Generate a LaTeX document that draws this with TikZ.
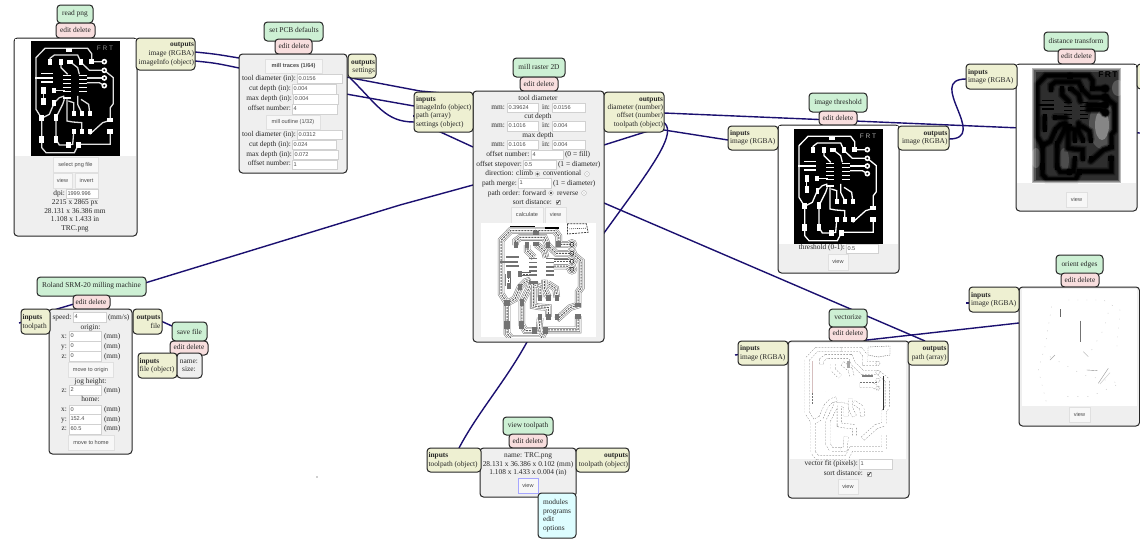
\documentclass[tikz,border=0pt]{standalone}
\usepackage{fontspec}
\setmainfont{Liberation Serif}
\newfontfamily\btnf{Liberation Sans}
\pgfdeclarelayer{bg}
\pgfsetlayers{bg,main}
\definecolor{wirec}{HTML}{1B1070}
\definecolor{gfill}{HTML}{CDF0D4}
\definecolor{pfill}{HTML}{F8DEDE}
\definecolor{yfill}{HTML}{EEF0D2}
\definecolor{cfill}{HTML}{DDFDFF}
\definecolor{mfill}{HTML}{EFEFEF}
\newcounter{tc}
\tikzset{
  x=1pt,y=-1pt,
  boxbase/.style={draw=black!85,line width=1pt,rounded corners=3.5pt,inner sep=0pt,outer sep=0pt},
  gbox/.style={boxbase,fill=gfill},
  pbox/.style={boxbase,fill=pfill},
  ybox/.style={boxbase,fill=yfill},
  cbox/.style={boxbase,fill=cfill},
  mbox/.style={boxbase,fill=mfill},
  wbox/.style={boxbase,fill=white,draw=none,rounded corners=0pt},
  nbox/.style={boxbase,fill=mfill},
  btnbox/.style={draw=black!12,line width=.6pt,fill=white!97!black,inner sep=0pt,outer sep=0pt},
  bluebtn/.style={btnbox,draw=blue!35!white,line width=.9pt},
  inpbox/.style={draw=black!18,line width=.5pt,fill=white,inner sep=0pt,outer sep=0pt},
  lab/.style={font=\fontsize{7.4}{8}\selectfont,text=black!85,inner sep=0pt,outer sep=0pt,text height=4.6pt,text depth=1.4pt},
  btnlab/.style={font=\btnf\fontsize{5.6}{7}\selectfont,text=black!70,inner sep=0pt,outer sep=0pt,text height=4.6pt,text depth=1.4pt},
  wire/.style={draw=wirec,line width=1.4pt,line join=round},
  pcbat/.style 2 args={shift={(#1,#2)},scale=.3333,shift={(-93,-123)}}
}
\newcommand\bx[6]{\node[#6,minimum width=#4pt-#2pt,minimum height=#5pt-#3pt,anchor=north west] (#1) at (#2,#3) {};}
\newcommand\tx[4][center]{\stepcounter{tc}\node[lab,anchor=#1] (t\thetc) at (#2,#3) {#4};}
\newcommand\btx[3]{\stepcounter{tc}\node[btnlab] (t\thetc) at (#1,#2) {#3};}
\newcommand\ipt[5]{\stepcounter{tc}\bx{i\thetc}{#1}{#2}{#3}{#4}{inpbox}\stepcounter{tc}\node[btnlab,anchor=west] (t\thetc) at (#1+1.5,#2/2+#4/2) {#5};}
\newcommand\btn[6][btnbox]{\stepcounter{tc}\bx{b\thetc}{#2}{#3}{#4}{#5}{#1}\stepcounter{tc}\node[btnlab] (t\thetc) at (#2/2+#4/2,#3/2+#5/2) {#6};}
\newcommand\radio[3]{\draw[black!30,fill=white,line width=.4pt] (#1,#2) circle (2.4);\fill[#3] (#1,#2) circle (1.3);}
\newcommand\chk[2]{\draw[black!30,fill=white,line width=.4pt] (#1-2.2,#2-2.2) rectangle (#1+2.2,#2+2.2);\draw[black!85,line width=.7pt] (#1-1.4,#2) -- (#1-.4,#2+1.3) -- (#1+1.6,#2-1.6);}
% board artwork, in coordinates of a 3x crop
\newcommand\pcbtr[1]{%
  \draw[#1] (207,145) -- (135,145) -- (108,173) -- (108,328) -- (125,355);
  \draw[#1] (207,145) -- (263,145) -- (275,161) -- (275,185) -- (313,185);
  \draw[#1] (150,187) -- (150,175) -- (163,165) -- (233,165) -- (243,187) -- (268,211) -- (313,211);
  \draw[#1] (183,187) -- (183,203) -- (203,223);
  \draw[#1] (210,185) -- (233,203) -- (238,223);
  \draw[#1] (261,234) -- (313,234);
  \draw[#1] (261,248) -- (298,248) -- (313,257);
  \draw[#1] (130,272) -- (130,305);
  \draw[#1] (162,271) -- (195,271);
  \draw[#1] (193,288) -- (178,293) -- (163,308) -- (148,343) -- (125,355) -- (125,418) -- (125,443) -- (138,458) -- (223,458) -- (236,433) -- (331,433) -- (331,393);
  \draw[#1] (193,298) -- (188,313) -- (168,353) -- (168,418) -- (178,435) -- (205,435);
  \draw[#1] (201,298) -- (201,363) -- (218,366) -- (245,368) -- (245,395);
  \draw[#1] (221,338) -- (221,308) -- (205,303);
  \draw[#1] (245,338) -- (233,313) -- (233,288);
  \draw[#1] (269,338) -- (266,313) -- (243,298);
  \draw[#1] (221,398) -- (218,433) -- (205,435);
  \draw[#1] (269,403) -- (308,368) -- (331,361) -- (331,323) -- (340,311) -- (340,233) -- (313,211);
}
\newcommand\pcbpd[1]{%
  \foreach \a/\b/\w/\h in {208/151/18/12,150/186/12/18,183/186/12/18,210/185/18/12,243/186/12/18,275/185/14/17,
     200/226/24/4,200/238/24/4,200/250/24/4,200/262/24/4,200/274/24/4,201/295/26/7,
     250/226/24/4,250/238/24/4,250/250/24/4,250/262/24/4,250/274/24/4,
     141/221/38/5,132/235/52/5,141/247/38/5,
     131/272/13/19,162/271/13/16,131/305/13/19,163/308/11/18,
     125/355/15/18,168/353/13/22,125/418/15/22,168/418/14/22,205/435/14/20,236/435/14/20,
     221/340/12/16,245/340/12/16,269/340/12/16,221/395/12/16,245/395/12/16,269/395/12/16,
     331/361/18/11,331/395/18/15} {\fill[#1] (\a-\w/2,\b-\h/2) rectangle (\a+\w/2,\b+\h/2);}
}
\newcommand\pcbrg[1]{\foreach \b in {185,211,234,257} {\draw[#1] (313,\b) circle (6);}}
\newcommand\pcbbody[3]{\pcbtr{#1}\pcbpd{#2}\pcbrg{#3}}
\begin{document}
\begin{tikzpicture}
\useasboundingbox (0,0) rectangle (1140,546);
% ---------- read png
\bx{rpg}{57}{5}{93}{23}{gbox} \tx{75}{14}{read png}
\bx{rpp}{56}{23}{95}{38}{pbox} \tx{75.5}{31}{edit delete}
\bx{rpm}{14}{38}{137}{236}{mbox}
\bx{rpw}{15}{39}{136}{156}{wbox}
\bx{rpo}{136}{38}{195}{70}{ybox}
\tx[east]{194}{45}{\textbf{outputs}} \tx[east]{194}{54}{image (RGBA)} \tx[east]{194}{62.5}{imageInfo (object)}
\fill[black] (31,41) rectangle (120,156);
\begin{scope}[pcbat={31}{41}]
  \pcbbody{white!88!black,line width=1.3pt}{white}{white,line width=1.6pt,fill=black}
  \btx{315}{147}{\color{black!45}\fontsize{6.5}{7}\selectfont F R T}
\end{scope}
\btn{53}{157}{98}{172}{select png file}
\btn{53}{173}{72}{188}{view}
\btn{75}{173}{98}{188}{invert}
\tx[east]{65}{194}{dpi:} \ipt{66}{189}{98}{198}{1999.996}
\tx{75}{203}{2215 x 2865 px} \tx{75}{212}{28.131 x 36.386 mm} \tx{75}{220}{1.108 x 1.433 in} \tx{75}{228.5}{TRC.png}
% ---------- set PCB defaults
\bx{spg}{264}{22}{323}{41}{gbox} \tx{294}{31}{set PCB defaults}
\bx{spp}{275}{39}{312}{54}{pbox} \tx{294}{47}{edit delete}
\bx{spm}{239}{54}{347}{173}{mbox}
\bx{spo}{348}{54}{376}{78}{ybox}
\tx[east]{375}{63}{\textbf{outputs}} \tx[east]{375}{71}{settings}
\btn{265}{59}{322}{73}{\textbf{mill traces (1/64)}}
\tx[east]{296}{78.5}{tool diameter (in):} \ipt{297}{74}{342}{83}{0.0156}
\tx[east]{291}{89}{cut depth (in):} \ipt{292}{84}{336}{94}{0.004}
\tx[east]{292}{99}{max depth (in):} \ipt{293}{94}{338}{104}{0.004}
\tx[east]{291}{109}{offset number:} \ipt{292}{104}{337}{114}{4}
\btn{266}{115}{320}{129}{mill outline (1/32)}
\tx[east]{296}{134.5}{tool diameter (in):} \ipt{297}{130}{342}{139}{0.0312}
\tx[east]{291}{144.5}{cut depth (in):} \ipt{292}{140}{336}{149}{0.024}
\tx[east]{292}{154.5}{max depth (in):} \ipt{293}{150}{338}{159}{0.072}
\tx[east]{291}{164}{offset number:} \ipt{292}{160}{337}{169}{1}
% ---------- mill raster 2D
\bx{mrg}{513}{58}{565}{77}{gbox} \tx{539}{68}{mill raster 2D}
\bx{mrp}{520}{77}{558}{91}{pbox} \tx{539}{84.5}{edit delete}
\bx{mrm}{473}{91}{604}{342}{mbox}
\bx{mri}{414}{92}{473}{132}{ybox}
\bx{mro}{604}{92}{664}{132}{ybox}
\tx[west]{416}{99.5}{\textbf{inputs}} \tx[west]{416}{107.5}{imageInfo (object)} \tx[west]{416}{116}{path (array)} \tx[west]{416}{124.5}{settings (object)}
\tx[east]{663}{99.5}{\textbf{outputs}} \tx[east]{663}{107.5}{diameter (number)} \tx[east]{663}{116}{offset (number)} \tx[east]{663}{124.5}{toolpath (object)}
\tx{538}{99}{tool diameter}
\tx[east]{505}{107.5}{mm:} \ipt{507}{103}{538}{112}{0.39624} \tx[east]{550}{107.5}{in:} \ipt{552}{103}{585}{112}{0.0156}
\tx{538}{117}{cut depth}
\tx[east]{505}{126}{mm:} \ipt{507}{121}{538}{131}{0.1016} \tx[east]{550}{126}{in:} \ipt{552}{121}{585}{131}{0.004}
\tx{538}{135.5}{max depth}
\tx[east]{505}{145}{mm:} \ipt{507}{140}{538}{149}{0.1016} \tx[east]{550}{145}{in:} \ipt{552}{140}{585}{149}{0.004}
\tx[east]{529.5}{154.5}{offset number:} \ipt{531}{150}{563}{159}{4} \tx[west]{565}{154.5}{(0 = fill)}
\tx[east]{522}{164.5}{offset stepover:} \ipt{523}{160}{556}{169}{0.5} \tx[west]{558}{164.5}{(1 = diameter)}
\tx[east]{533}{174}{direction: climb} \radio{537.5}{174}{black!70} \tx[west]{543}{174}{conventional} \radio{587}{174}{black!10}
\tx[east]{517}{183.5}{path merge:} \ipt{518}{178}{551}{188}{1} \tx[west]{553}{183.5}{(1 = diameter)}
\tx[east]{546}{193.5}{path order: forward} \radio{551}{193}{black!70} \tx[west]{557}{193.5}{reverse} \radio{584}{193}{black!10}
\tx[east]{552}{202.5}{sort distance:} \chk{558}{202}
\btn{511}{207}{543}{223}{calculate}
\btn{545}{207}{566}{223}{view}
\bx{mrw}{481}{223}{596}{337}{wbox}
\begin{scope}
  \clip (481,223) rectangle (596,337);
  \begin{scope}[shift={(496,223)},scale=.345,shift={(-93,-123)}]
    \pcbbody{black!50,line width=6.6pt}{black!50}{black!50,line width=6pt}
    \pcbbody{white,line width=5.5pt}{white}{white,line width=5pt}
    \pcbtr{black!60,line width=3.8pt}\pcbrg{black!60,line width=3.2pt}
    \pcbtr{white,line width=2.8pt}\pcbrg{white,line width=2.2pt}
    \pcbtr{black!65,line width=1pt,dash pattern=on 2pt off 1pt}
    \pcbpd{black!55}
    \pcbrg{black!85,line width=.7pt}
    \draw[black,line width=1.4pt] (135,133) -- (205,133);
    \draw[black,line width=1.4pt] (235,137) -- (275,137);
    \draw[black!80,line width=.7pt,dash pattern=on 2pt off 1pt] (300,125) -- (355,125) -- (360,150) -- (300,155) -- cycle;
    \draw[black!70,line width=.6pt,dash pattern=on 1pt off 1pt] (305,140) -- (355,138);
  \end{scope}
\end{scope}
% ---------- Roland
\bx{rlg}{37}{277}{146}{296}{gbox} \tx{91.5}{286}{Roland SRM-20 milling machine}
\bx{rlp}{73}{295}{110}{309}{pbox} \tx{91}{302.5}{edit delete}
\bx{rlm}{49}{309}{132}{454}{mbox}
\bx{rli}{21}{309}{50}{334}{ybox}
\bx{rlo}{133}{309}{162}{334}{ybox}
\tx[west]{22.5}{318}{\textbf{inputs}} \tx[west]{22.5}{326.5}{toolpath}
\tx[east]{160.5}{318}{\textbf{outputs}} \tx[east]{160.5}{326.5}{file}
\tx[east]{71.5}{317.5}{speed:} \ipt{73}{312}{106}{322}{4} \tx[west]{108}{317.5}{(mm/s)}
\tx{90.5}{327.5}{origin:}
\tx[east]{67}{336.5}{x:} \ipt{69}{331}{101}{341}{0} \tx[west]{104}{336.5}{(mm)}
\tx[east]{67}{346.5}{y:} \ipt{69}{341.5}{101}{351}{0} \tx[west]{104}{346.5}{(mm)}
\tx[east]{67}{356.5}{z:} \ipt{69}{351.5}{101}{361}{0} \tx[west]{104}{356.5}{(mm)}
\btn{68}{362}{113}{377}{move to origin}
\tx{90.5}{382}{jog height:}
\tx[east]{67}{390.5}{z:} \ipt{69}{385}{101}{395}{2} \tx[west]{104}{390.5}{(mm)}
\tx{90.5}{400}{home:}
\tx[east]{67}{409.5}{x:} \ipt{69}{405}{101}{414}{0} \tx[west]{104}{409.5}{(mm)}
\tx[east]{67}{419.5}{y:} \ipt{69}{414.5}{101}{424}{152.4} \tx[west]{104}{419.5}{(mm)}
\tx[east]{67}{429}{z:} \ipt{69}{424.5}{101}{434}{60.5} \tx[west]{104}{429}{(mm)}
\btn{68}{435}{114}{450}{move to home}
% ---------- save file
\bx{sfg}{172}{322}{207}{341}{gbox} \tx{189.5}{332.5}{save file}
\bx{sfp}{170}{341}{208}{355}{pbox} \tx{189}{348}{edit delete}
\bx{sfi}{138}{353}{177}{378}{ybox}
\bx{sfm}{177}{353}{202}{378}{nbox}
\tx[west]{139.5}{361.5}{\textbf{inputs}} \tx[west]{139.5}{370}{file (object)}
\tx{189}{361.5}{name:} \tx{189}{370}{size:}
% ---------- view toolpath
\bx{vtg}{503}{417}{553}{435}{gbox} \tx{528}{426}{view toolpath}
\bx{vtp}{509}{434}{547}{448}{pbox} \tx{528}{441.5}{edit delete}
\bx{vtm}{480}{448}{576}{497}{mbox}
\bx{vti}{427}{448}{481}{472}{ybox}
\bx{vto}{576}{448}{629}{472}{ybox}
\tx[west]{428.5}{456}{\textbf{inputs}} \tx[west]{428.5}{465}{toolpath (object)}
\tx[east]{628}{456}{\textbf{outputs}} \tx[east]{628}{465}{toolpath (object)}
\tx{528}{456}{name: TRC.png} \tx{528}{464.5}{28.131 x 36.386 x 0.102 (mm)} \tx{528}{472.5}{1.108 x 1.433 x 0.004 (in)}
\btn[bluebtn]{518}{478}{538}{493}{view}
\bx{mnu}{538}{493}{576}{538}{cbox}
\tx[west]{543}{503}{modules} \tx[west]{543}{512}{programs} \tx[west]{543}{520}{edit} \tx[west]{543}{528.5}{options}
% ---------- image threshold
\bx{itg}{809}{93}{867}{112}{gbox} \tx{838}{102.5}{image threshold}
\bx{itp}{819}{111}{857}{125}{pbox} \tx{838}{118.5}{edit delete}
\bx{itm}{778}{125}{899}{273}{mbox}
\bx{itw}{779}{126}{898}{244}{wbox}
\bx{iti}{728}{126}{778}{150}{ybox}
\bx{ito}{898}{126}{949}{150}{ybox}
\tx[west]{730}{133.5}{\textbf{inputs}} \tx[west]{730}{142}{image (RGBA)}
\tx[east]{947.5}{133.5}{\textbf{outputs}} \tx[east]{947.5}{142}{image (RGBA)}
\fill[black] (794,129) rectangle (883,244);
\begin{scope}[pcbat={794}{129}]
  \pcbbody{white,line width=1.3pt}{white}{white,line width=1.6pt,fill=black}
  \btx{315}{147}{\color{black!30}\fontsize{6.5}{7}\selectfont F R T}
\end{scope}
\tx[east]{845}{248}{threshold (0-1):} \ipt{846}{244}{878}{253}{0.5}
\btn{828}{254}{848}{270}{view}
% ---------- distance transform
\bx{dtg}{1044}{32}{1108}{51}{gbox} \tx{1076}{41.5}{distance transform}
\bx{dtp}{1058}{49}{1095}{64}{pbox} \tx{1076.5}{57}{edit delete}
\bx{dtm}{1016}{64}{1137}{211}{mbox}
\bx{dtw}{1017}{65}{1136}{183}{wbox}
\bx{dti}{966}{64}{1017}{89}{ybox}
\bx{dto}{1137}{64}{1147}{89}{ybox}
\tx[west]{968}{72.5}{\textbf{inputs}} \tx[west]{968}{81}{image (RGBA)}
\begin{scope}
  \clip (1032,68) rectangle (1121,183);
  \fill[black!82] (1032,68) rectangle (1121,183);
  \fill[white,opacity=.18] (1102,125) ellipse (13 and 24);
  \fill[white,opacity=.3] (1102,125) ellipse (7 and 15);
  \fill[white,opacity=.2] (1118,88) ellipse (6 and 8);
  \fill[white,opacity=.15] (1064,160) ellipse (5 and 12);
  \fill[white,opacity=.2] (1036,158) ellipse (5 and 10);
  \begin{scope}[pcbat={1032}{68}]
    \pcbbody{black,opacity=.3,line width=8pt,line cap=round}{black,opacity=.3}{black,opacity=.3,line width=6pt}
    \pcbbody{black,opacity=.6,line width=5.5pt,line cap=round}{black,opacity=.6}{black,opacity=.6,line width=4pt}
    \pcbbody{black,line width=3.4pt,line cap=round}{black}{black,line width=2.6pt,fill=black}
  \end{scope}
  \draw[white,opacity=.2,line width=7pt] (1032,68) rectangle (1121,183);
  \draw[white,opacity=.3,line width=4pt] (1032,68) rectangle (1121,183);
  \draw[white,opacity=.4,line width=2pt] (1032,68) rectangle (1121,183);
\end{scope}
\tx{1108}{75.5}{\textcolor{black}{\btnf\bfseries\fontsize{8.5}{9}\selectfont F\,R\,T}}
\btn{1066}{192}{1087}{207}{view}
% ---------- vectorize
\bx{vcg}{829}{309}{867}{327}{gbox} \tx{848}{318}{vectorize}
\bx{vcp}{829}{327}{867}{341}{pbox} \tx{848}{334}{edit delete}
\bx{vcm}{788}{341}{909}{498}{mbox}
\bx{vcw}{790}{343}{906}{459}{wbox}
\bx{vci}{738}{341}{788}{365}{ybox}
\bx{vco}{908}{341}{948}{365}{ybox}
\tx[west]{740}{349}{\textbf{inputs}} \tx[west]{740}{357.5}{image (RGBA)}
\tx[east]{946.5}{349}{\textbf{outputs}} \tx[east]{946.5}{357.5}{path (array)}
\begin{scope}[shift={(802,342)},scale=.345,shift={(-93,-123)}]
  \pcbtr{black!55,line width=4.6pt,dash pattern=on 1.6pt off 1.4pt}
  \pcbtr{white,line width=3.9pt}
  \pcbrg{black!50,line width=.4pt,dash pattern=on 1pt off 1pt}
\end{scope}
\draw[black!80,line width=.7pt] (883,376) -- (883,410);
\draw[black!50,line width=1.2pt] (862,376) -- (873,376);
\fill[black!35] (846.5,361) rectangle (849.5,368);
\draw[red!35!black!25,line width=.7pt] (812,361) -- (812,393);
\draw[black!60,line width=.4pt,dash pattern=on 1.2pt off 1pt] (868,347) -- (890,346) -- (890,355) -- (878,357) -- (868,355) -- cycle;
\tx[east]{858}{464}{vector fit (pixels):} \ipt{859}{459}{892}{469}{1}
\tx[east]{863}{474}{sort distance:} \chk{869}{474}
\btn{838}{479}{858}{494}{view}
% ---------- orient edges
\bx{oeg}{1056}{255}{1103}{274}{gbox} \tx{1079.5}{265}{orient edges}
\bx{oep}{1061}{273}{1099}{287}{pbox} \tx{1080}{281}{edit delete}
\bx{oem}{1019}{287}{1139.5}{426}{mbox}
\bx{oew}{1022}{289}{1137}{406}{wbox}
\bx{oei}{969}{287}{1019}{312}{ybox}
\tx[west]{971}{295.5}{\textbf{inputs}} \tx[west]{971}{304}{image (RGBA)}
\begin{scope}[shift={(730,250)},scale=.3333]
  \draw[black!60,line width=.4pt] (990,178) -- (990,200);
  \draw[black!55,line width=.5pt] (1052,212) -- (1052,275);
  \draw[black!35,line width=.5pt] (1135,355) -- (1105,400);
  \draw[black!20,line width=.5pt] (1140,368) -- (1110,402);
  \draw[black!45,line width=.4pt] (1070,360) -- (1102,362);
  \draw[black!25,line width=.35pt,dash pattern=on 1pt off 7pt] (965,170) -- (945,290) -- (925,360) -- (950,460);
  \draw[black!25,line width=.35pt,dash pattern=on 1pt off 8pt] (1015,150) -- (1120,150) -- (1170,180) -- (1160,300);
  \draw[black!25,line width=.35pt,dash pattern=on 1pt off 9pt] (960,320) -- (1060,375) -- (1170,400) -- (1080,440) -- (990,440);
  \draw[black!25,line width=.35pt,dash pattern=on 1pt off 9pt] (1085,300) -- (1120,240) -- (1140,170);
  \draw[black!35,line width=.4pt] (960,330) -- (975,315);
  \draw[black!35,line width=.4pt] (1060,305) -- (1075,320);
\end{scope}
\btn{1069}{407}{1090}{422}{view}
% ---------- speck
\fill[black!80] (317,477) circle (.7);
% ---------- wire ends
\coordinate (wImg) at (195,52);
\coordinate (wInfo) at (195,61);
\coordinate (wInfoIn) at (414,106);
\coordinate (wPath) at (413,116);
\coordinate (wSet) at (350,78);
\coordinate (wSetIn) at (414,122);
\coordinate (wDtEnd) at (1140,133);
\coordinate (wBump) at (436,130);
\coordinate (wThIn) at (728,140);
\coordinate (wTool) at (663,122);
\coordinate (wVtIn) at (459,448);
\coordinate (wRoSt) at (539,170);
\coordinate (wRoIn) at (19,323);
\coordinate (wVecSt) at (540,178);
\coordinate (wVecOut) at (925,341);
\coordinate (wThOut) at (949,139);
\coordinate (wDtIn) at (966,79);
\coordinate (wViIn) at (735,355);
\coordinate (wOeEnd) at (1130,311);
\coordinate (wOiA) at (966,303);
\coordinate (wOiB) at (970,303);
\begin{pgfonlayer}{bg}
  \fill[white] (0,0) rectangle (1140,546);
  \draw[wire] (wImg) .. controls (215,54) .. (239,58) -- (346,77) -- (420,91) -- (664,113) -- (wDtEnd);
  \draw[wire] (wInfo) .. controls (215,63) .. (239,68) -- (346,94) -- (wInfoIn);
  \draw[wire] (wSet) .. controls (377,104) and (385,122) .. (wSetIn);
  \draw[wire] (wPath) -- ++(2,0);
  \draw[wire] (wBump) -- (473,147) -- (604,145) -- (642,133) -- (652,130) -- (664,130) -- (wThIn);
  \draw[wire] (wTool) .. controls (676,130) and (660,155) .. (633,193) -- (604,233) -- (527,342) .. controls (505,382) and (478,412) .. (wVtIn);
  \draw[wire] (wRoSt) -- (473,185) -- (400,205) -- (145,283) -- (57,309) -- (30,320) -- (wRoIn);
  \draw[wire] (wVecSt) -- (604,203) -- (wVecOut);
  \draw[wire] (wThOut) .. controls (990,139) and (925,79) .. (wDtIn);
  \draw[wire] (wViIn) -- (867,340) -- (1019,323) -- (wOeEnd);
  \draw[wire] (wOiA) -- (wOiB);
  \draw[wire] (rlo.east) -- (172,326);
\end{pgfonlayer}
\end{tikzpicture}
\end{document}
